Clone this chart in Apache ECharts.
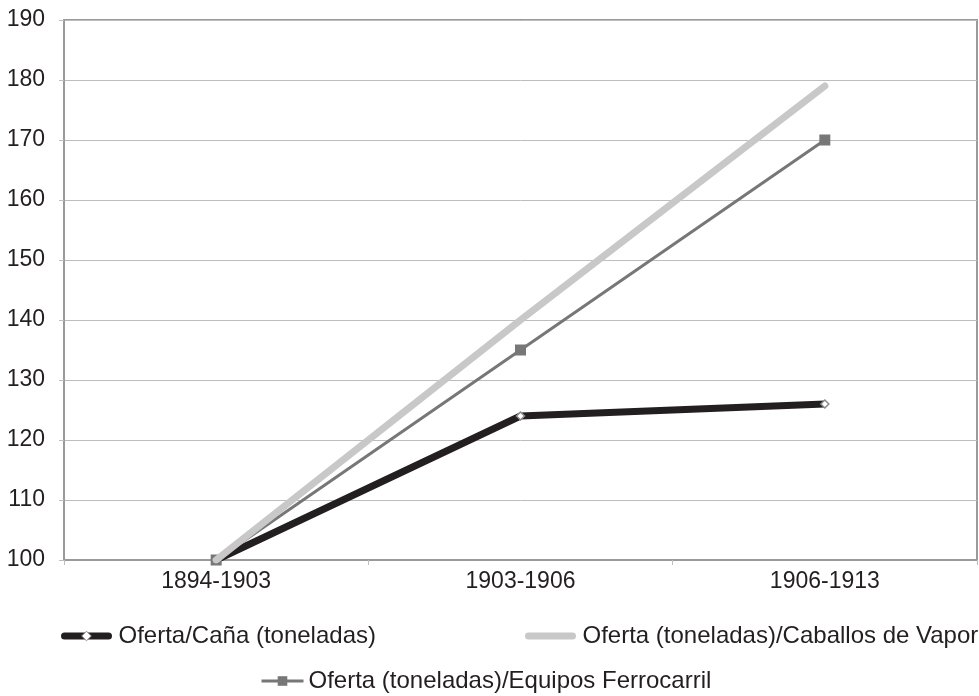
<!DOCTYPE html>
<html>
<head>
<meta charset="utf-8">
<script src="https://cdn.jsdelivr.net/npm/echarts@6/dist/echarts.min.js"></script>
<style>
  html, body { margin: 0; padding: 0; background: #fff; }
  #chart { width: 979px; height: 696px; }
</style>
</head>
<body>
<div id="chart"></div>
<script>
// Periods on the category axis
const periods = ['1894-1903', '1903-1906', '1906-1913'];

// Index series (base 1894-1903 = 100)
const ofertaCana = [100, 124, 126];
const ofertaCaballosVapor = [100, 140, 179];
const ofertaEquiposFerrocarril = [100, 135, 170];

const seriesNames = [
  'Oferta/Caña (toneladas)',
  'Oferta (toneladas)/Caballos de Vapor',
  'Oferta (toneladas)/Equipos Ferrocarril'
];

const font = 'Liberation Sans, Arial, Helvetica, sans-serif';
const textColor = '#231f20';
const axisFontSize = 23;
const legendFontSize = 24;

const chart = echarts.init(document.getElementById('chart'), null, { renderer: 'canvas' });

const legendBase = {
  itemWidth: 44,
  itemHeight: 12,
  itemGap: 10,
  padding: 0,
  textStyle: { fontFamily: font, fontSize: legendFontSize, color: textColor },
  selectedMode: false
};

chart.setOption({
  animation: false,
  backgroundColor: '#ffffff',
  grid: { left: 64, right: 2, top: 20, bottom: 136, show: true, borderColor: '#9a9a9a', borderWidth: 2, backgroundColor: 'transparent' },
  xAxis: {
    type: 'category',
    data: periods,
    boundaryGap: true,
    axisLine: { show: true, lineStyle: { color: '#9a9a9a', width: 2 } },
    axisTick: { show: true, length: 5, lineStyle: { color: '#bdbdbd', width: 1 } },
    axisLabel: { fontFamily: font, fontSize: axisFontSize, color: textColor, margin: 10 },
    splitLine: { show: false }
  },
  yAxis: {
    type: 'value',
    min: 100,
    max: 190,
    interval: 10,
    axisLine: { show: true, lineStyle: { color: '#9a9a9a', width: 2 } },
    axisTick: { show: true, length: 5, lineStyle: { color: '#bdbdbd', width: 1 } },
    axisLabel: { fontFamily: font, fontSize: axisFontSize, color: textColor, margin: 19 },
    splitLine: { show: true, lineStyle: { color: '#bdbdbd', width: 1 } }
  },
  legend: [
    Object.assign({}, legendBase, {
      data: [{ name: seriesNames[0], itemStyle: { color: '#ffffff', borderColor: '#8a8a8a', borderWidth: 1 } }],
      left: 61, top: 624,
      lineStyle: { width: 7, color: '#231f20', cap: 'round' },
      textStyle: Object.assign({}, legendBase.textStyle, { padding: [0, 0, 0, 5] })
    }),
    Object.assign({}, legendBase, {
      data: [{ name: seriesNames[1], itemStyle: { opacity: 0 } }],
      left: 525, top: 624,
      lineStyle: { width: 7, color: '#c8c8c8', cap: 'round' },
      textStyle: Object.assign({}, legendBase.textStyle, { padding: [0, 0, 0, 5] })
    }),
    Object.assign({}, legendBase, {
      data: [seriesNames[2]],
      itemWidth: 42,
      left: 260, top: 669,
      lineStyle: { width: 3, color: '#777777' }
    })
  ],
  series: [
    {
      name: seriesNames[0],
      type: 'line',
      data: ofertaCana,
      z: 2,
      lineStyle: { color: '#231f20', width: 7 },
      itemStyle: { color: '#ffffff', borderColor: '#8a8a8a', borderWidth: 1.5 },
      symbol: 'diamond',
      symbolSize: 8,
      showSymbol: true
    },
    {
      name: seriesNames[1],
      type: 'line',
      data: ofertaCaballosVapor,
      z: 4,
      lineStyle: { color: '#c8c8c8', width: 7, cap: 'round' },
      itemStyle: { color: '#c8c8c8' },
      symbol: 'none'
    },
    {
      name: seriesNames[2],
      type: 'line',
      data: ofertaEquiposFerrocarril,
      z: 3,
      lineStyle: { color: '#777777', width: 3 },
      itemStyle: { color: '#777777' },
      symbol: 'rect',
      symbolSize: 11
    }
  ]
});
</script>
</body>
</html>
